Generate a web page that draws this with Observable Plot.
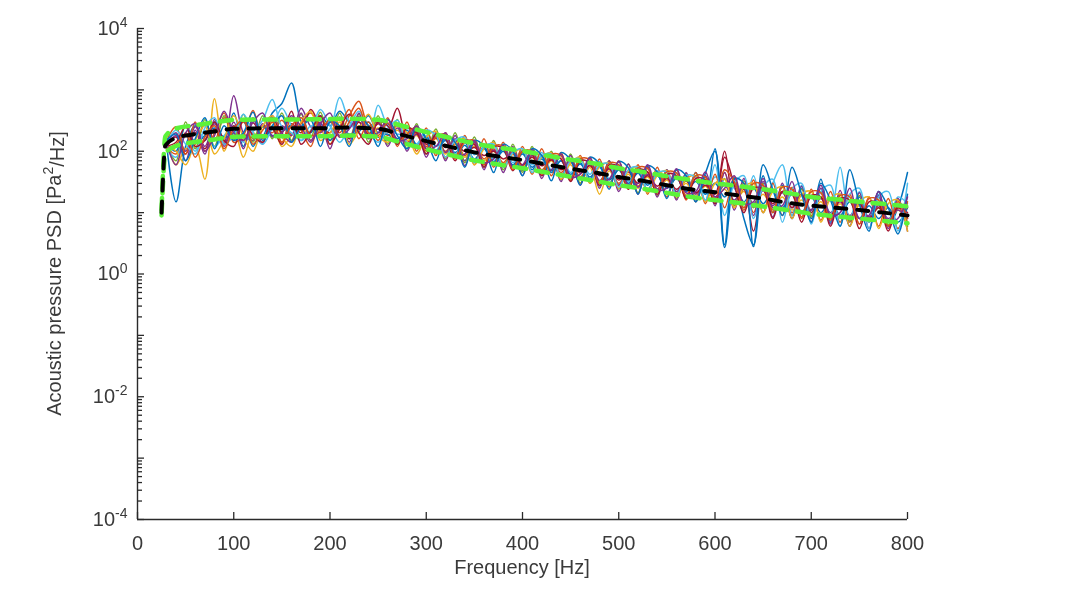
<!DOCTYPE html>
<html><head><meta charset="utf-8">
<script src="https://cdn.jsdelivr.net/npm/d3@7"></script>
<script src="https://cdn.jsdelivr.net/npm/@observablehq/plot@0.6"></script>
<style>
body{margin:0;background:#fff;}
#chart svg{font-family:"Liberation Sans",Arial,sans-serif;filter:blur(0.5px);}
</style>
</head><body><div id="chart"></div>
<script>
// Frequency grid of the individual runs [Hz]
const freq = [30,40,50,60,70,80,90,100,110,120,130,140,150,160,170,180,190,200,210,220,230,240,250,260,270,280,290,300,310,320,330,340,350,360,370,380,390,400,410,420,430,440,450,460,470,480,490,500,510,520,530,540,550,560,570,580,590,600,610,620,630,640,650,660,670,680,690,700,710,720,730,740,750,760,770,780,790,800];

// Individual PSD runs [Pa^2/Hz]
const s1 = [140,15,120,260,150,300,160,420,120,330,180,420,600,1300,300,200,380,260,450,300,250,380,200,280,160,220,130,200,120,160,95,140,70,120,65,110,60,95,50,85,45,70,38,65,35,55,30,50,28,45,24,42,20,40,18,45,15,110,2.7,35,8,3,40,10,28,8,25,8,35,7,20,6,18,8,22,6,12,45];
const s2 = [120,90,200,130,280,150,350,180,300,160,260,200,320,190,280,420,250,300,200,380,650,260,300,180,260,140,200,120,170,100,150,85,130,75,110,65,100,58,90,50,75,45,70,38,60,32,55,30,48,27,45,24,40,20,38,18,35,15,45,12,30,10,28,11,22,10,20,9,18,8,17,7,15,7,14,6,12,7];
const s3 = [150,60,110,120,35,720,100,250,80,200,140,300,120,180,260,150,220,130,300,180,260,200,240,160,220,150,180,110,160,90,140,80,120,70,100,60,90,55,80,45,70,40,60,30,55,20,48,28,42,25,38,22,34,20,30,18,27,17,24,15,22,13,20,12,18,11,16,10,15,9,14,8.5,13,8,12,7,11,6];
const s4 = [130,200,100,250,120,280,140,800,200,150,280,170,260,180,500,250,200,320,180,260,300,180,230,150,240,130,190,110,180,95,160,70,140,60,105,55,95,48,85,45,80,40,68,35,60,33,52,28,48,26,42,24,37,22,33,20,30,18,28,16,26,14,23,13,21,12,19,11,17,10,15,9,14,8.5,13,8,11,8];
const s5 = [140,70,300,110,330,120,380,150,400,140,380,160,420,150,400,170,430,150,420,160,400,140,380,130,330,110,280,90,230,75,200,65,170,55,150,50,130,45,120,40,100,34,90,30,80,27,70,24,62,21,56,19,50,17,44,15,40,14,36,13,33,12,30,10,27,9,24,8.5,22,8,20,7.3,19,7,18,6.3,16,6];
const s6 = [110,80,180,100,220,120,180,260,140,210,320,700,250,200,150,260,180,230,750,300,200,170,560,250,190,200,110,180,105,170,90,150,88,130,75,120,65,105,60,95,50,85,45,75,42,68,36,60,32,52,30,48,26,45,22,40,20,38,30,25,12,40,10,30,60,9,28,10,25,9,55,8,22,7,20,7,18,14];
const s7 = [125,170,90,200,110,230,130,260,150,290,170,230,130,280,200,480,260,200,350,160,300,190,280,230,500,170,210,130,165,115,130,100,115,85,100,75,90,60,80,58,72,50,66,44,58,40,52,34,46,30,40,27,36,24,33,21,28,20,100,14,24,5,25,14,22,12,20,10,18,9,16,8,14,8,12,7,12,10];
const s8 = [135,100,260,140,180,240,170,200,320,120,250,180,210,260,170,210,280,150,240,190,210,300,170,190,130,260,120,170,100,150,80,125,75,110,68,100,58,90,55,75,48,70,42,62,38,56,34,50,30,44,28,40,25,36,22,32,20,30,18,28,15,25,14,22,12,20,10,18,10,16,9,15,8,13,8,12,7,12];
const s9 = [145,250,90,300,100,200,420,140,180,460,160,300,140,350,220,120,360,170,250,480,160,300,150,350,120,300,100,240,85,200,80,180,60,160,55,140,50,120,42,110,40,95,33,85,30,75,26,70,24,60,20,55,18,50,16,45,14,42,12,38,11,34,10,30,9,26,8,24,7.5,22,7,20,6.5,18,6,17,5.5,15];
const s10 = [115,180,70,220,90,330,120,300,110,350,130,380,200,140,420,150,300,110,360,140,420,160,300,120,280,100,240,80,200,70,180,58,150,50,140,45,120,40,110,36,95,32,85,28,78,25,70,22,62,20,56,18,50,16,45,15,40,13,45,11,36,9,32,8.5,30,8,27,7,25,6.5,23,6,21,5.5,19,5.5,17,5];
const s11 = [125,100,60,150,260,90,160,380,170,100,260,380,170,120,300,450,150,200,330,130,220,400,180,140,260,200,90,170,210,80,130,160,60,110,140,55,90,110,45,80,95,35,65,80,30,55,65,25,48,55,21,40,48,18,35,40,15,30,35,12,26,30,10,22,26,8,20,22,7,17,20,6,15,18,5.5,14,16,5];
const s12 = [135,220,130,90,240,350,130,180,400,200,130,240,500,260,150,220,480,260,140,250,450,210,140,230,320,140,130,220,180,80,150,170,65,120,130,55,95,110,45,85,90,38,70,75,32,60,62,26,50,55,22,44,46,19,40,38,16,60,9,30,40,8,26,35,7,24,30,6.5,22,28,6,20,25,5.5,18,22,5,30];
const s13 = [120,140,250,120,150,300,150,120,320,180,140,350,200,450,130,210,380,130,230,400,200,130,300,260,130,240,200,90,190,160,70,150,130,55,120,110,48,100,90,40,85,75,32,70,65,28,60,55,24,50,46,20,42,40,17,36,34,14,80,28,10,25,24,8,22,20,7,19,18,6,17,16,5.5,15,14,5,13,12];
const s14 = [150,190,70,160,350,110,260,150,200,430,150,260,380,140,250,320,120,300,260,120,350,260,120,330,180,110,250,160,70,180,140,55,150,120,45,130,100,40,110,85,33,95,72,28,80,62,24,68,54,20,58,46,17,50,40,15,44,100,3,36,30,2.8,60,24,9,55,20,7,30,16,6,50,14,5,22,12,4.5,20];
const s15 = [110,130,190,80,170,260,110,230,330,130,220,320,140,260,350,180,210,330,170,300,500,200,180,290,140,190,250,100,170,190,75,140,150,60,120,120,50,100,100,42,88,85,35,75,72,30,64,60,26,54,52,22,46,44,19,40,38,16,50,32,12,30,28,10,26,24,8.5,22,21,7.5,19,18,6.5,17,16,6,15,8];
const s16 = [140,60,200,280,100,180,450,200,150,300,420,180,200,380,250,140,280,420,170,230,370,170,200,330,150,160,260,110,120,200,85,90,150,65,75,125,55,60,105,45,50,90,38,42,78,33,35,68,28,30,60,24,25,52,21,22,46,18,25,40,14,15,36,12,13,32,10,11,28,9,10,25,8,9,22,7,8,18];
const runs = [s1,s2,s3,s4,s5,s6,s7,s8,s9,s10,s11,s12,s13,s14,s15,s16];
const runColors = ["#0072BD","#D95319","#EDB120","#7E2F8E","#77AC30","#4DBEEE","#A2142F","#0072BD","#D95319","#7E2F8E","#EDB120","#4DBEEE","#A2142F","#0072BD","#D95319","#7E2F8E"];

// Mean and envelope curves
const meanFreq = [25,29,40,60,80,100,130,160,190,220,250,275,300,325,350,375,400,425,450,475,500,525,550,575,600,625,650,675,700,725,750,775,800];
const meanPsd  = [10,125,165,190,210,232,236,236,237,243,232,185,146,118,96,82,72,61,52,45,38,33,28,24,21.5,19,17,14.5,13,12,11,10,9];
const upperPsd = [11,175,235,265,295,325,330,330,332,340,325,260,205,165,134,115,101,85,73,63,53,46,39,34,30,27,24,21,18,16.5,15,13.9,12.6];
const lowerPsd = [9,93,122,141,156,172,175,175,176,180,172,137,108,87,71,61,53,45,38.5,33,28,24.5,21,18,16,14.4,12.6,11,9.6,8.7,8,7.3,6.7];

// Axis ticks
const xTicks = [0,100,200,300,400,500,600,700,800];
const yLabelTicks = [1e-4,1e-2,1,1e2,1e4];
const yMajorTicks = [1e-4,1e-3,1e-2,1e-1,1,1e1,1e2,1e3,1e4];
const yMinorTicks = [];
for (let k = -4; k < 4; k++) for (let m = 2; m <= 9; m++) yMinorTicks.push(m * Math.pow(10, k));

const W = 1080, H = 589, ML = 137, MR = 173, MT = 28, MB = 70;
const innerW = W - ML - MR, innerH = H - MT - MB;
const axisColor = "#2a2a2a", textColor = "#3a3a3a";

const marks = [];
runs.forEach((s, i) => {
  marks.push(Plot.line(s, {x: (d, j) => freq[j], y: d => d, stroke: runColors[i], strokeWidth: 1.5, curve: "catmull-rom"}));
});
marks.push(Plot.line(upperPsd, {x: (d, j) => meanFreq[j], y: d => d, stroke: "#5cf23a", strokeWidth: 4.5, strokeDasharray: "12,10", curve: "monotone-x"}));
marks.push(Plot.line(lowerPsd, {x: (d, j) => meanFreq[j], y: d => d, stroke: "#5cf23a", strokeWidth: 4.5, strokeDasharray: "12,10", curve: "monotone-x"}));
marks.push(Plot.line(meanPsd, {x: (d, j) => meanFreq[j], y: d => d, stroke: "#000", strokeWidth: 4, strokeDasharray: "11,11", curve: "monotone-x"}));
// axes
marks.push(Plot.ruleX([0], {stroke: axisColor, strokeWidth: 1.4}));
marks.push(Plot.ruleY([1e-4], {stroke: axisColor, strokeWidth: 1.4}));
marks.push(Plot.tickX(xTicks, {x: d => d, insetTop: innerH - 7, stroke: axisColor, strokeWidth: 1.3}));
marks.push(Plot.tickY(yMajorTicks, {y: d => d, insetRight: innerW - 7, stroke: axisColor, strokeWidth: 1.3}));
marks.push(Plot.tickY(yMinorTicks, {y: d => d, insetRight: innerW - 5, stroke: axisColor, strokeWidth: 1.3}));
marks.push(Plot.axisX({ticks: xTicks, tickSize: 0, tickPadding: 16, fontSize: 20, tickFormat: d => String(d), color: textColor}));
marks.push(Plot.axisY({ticks: yLabelTicks, tickSize: 0, tickPadding: 10, fontSize: 20, tickFormat: d => String(Math.round(Math.log10(d))), color: textColor, label: null}));

const plot = Plot.plot({
  width: W, height: H,
  marginLeft: ML, marginRight: MR, marginTop: MT, marginBottom: MB,
  x: {domain: [0, 800], axis: null},
  y: {type: "log", domain: [1e-4, 1e4], axis: null},
  style: {background: "#fff", color: textColor},
  marks
});

const svg = d3.select(plot);
// superscripts for log tick labels
svg.selectAll('g[aria-label="y-axis tick label"] text').each(function() {
  const e = this.textContent.trim();
  const t = d3.select(this);
  t.text(null);
  t.append("tspan").text("10");
  t.append("tspan").attr("dy", "-0.55em").attr("font-size", "14px").text(e.replace("−", "-"));
});
// axis titles
svg.append("text").attr("x", (ML + W - MR) / 2).attr("y", 574)
  .attr("text-anchor", "middle").attr("font-size", 20).attr("fill", textColor)
  .text("Frequency [Hz]");
const yl = svg.append("text").attr("transform", `translate(61,${MT + innerH / 2}) rotate(-90)`)
  .attr("text-anchor", "middle").attr("font-size", 20).attr("fill", textColor);
yl.append("tspan").text("Acoustic pressure PSD [Pa");
yl.append("tspan").attr("dy", "-0.55em").attr("font-size", "14px").text("2");
yl.append("tspan").attr("dy", "0.55em").text("/Hz]");

document.getElementById("chart").appendChild(plot);
</script>
</body></html>
